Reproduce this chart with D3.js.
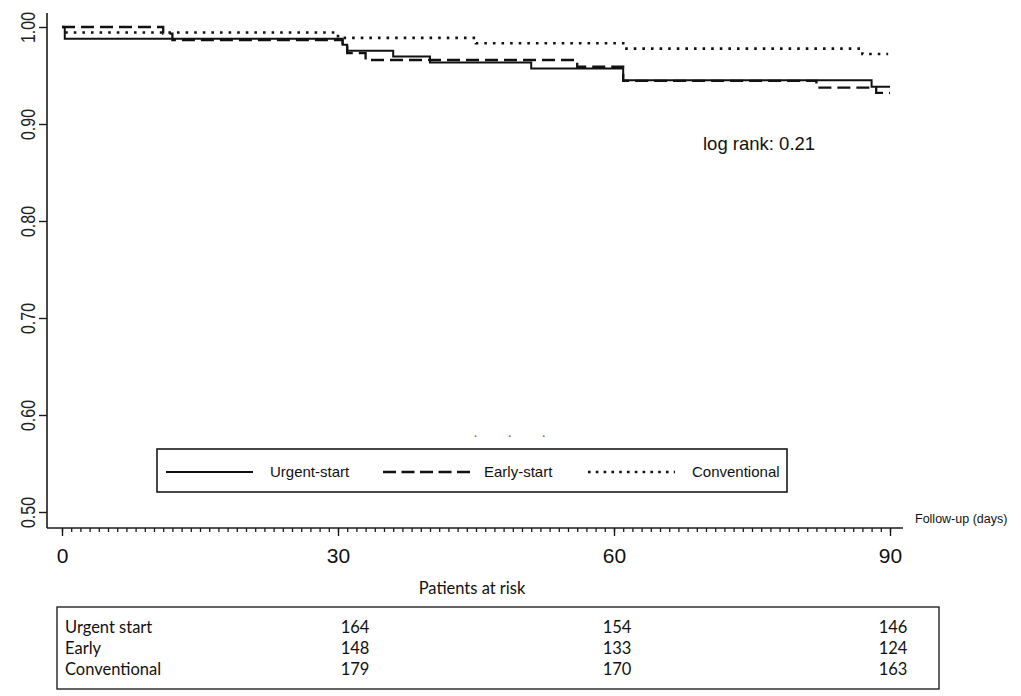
<!DOCTYPE html>
<html>
<head>
<meta charset="utf-8">
<script src="https://cdn.jsdelivr.net/npm/d3@7"></script>
<style>
  body { margin: 0; background: #fff; }
  svg { display: block; }
</style>
</head>
<body>
<div id="chart"></div>
<script>
// survival steps: [day, proportion event-free]
const urgentStart = [[0, 1], [0.3, 0.9878], [30.5, 0.9817], [31, 0.9756], [36, 0.9695], [40, 0.9634], [51, 0.9573], [61, 0.9451], [88, 0.9385], [90, 0.9385]];
const earlyStart = [[0, 1], [11, 0.9932], [12, 0.9865], [30.5, 0.9797], [31, 0.973], [33, 0.966], [56, 0.959], [61, 0.9445], [82, 0.9375], [88.5, 0.932], [90, 0.932]];
const conventional = [[0, 1], [0.3, 0.9944], [30, 0.9888], [45, 0.9832], [61, 0.9777], [87, 0.9721], [89.8, 0.9721]];

const groupNames = ["Urgent-start", "Early-start", "Conventional"];
const dayTicks = [0, 30, 60, 90];
const yTicks = [0.5, 0.6, 0.7, 0.8, 0.9, 1.0];

const riskLabels = ["Urgent start", "Early", "Conventional"];
const riskUrgent = [164, 154, 146];
const riskEarly = [148, 133, 124];
const riskConventional = [179, 170, 163];

const width = 1021;
const height = 696;

const svg = d3.select("#chart")
  .append("svg")
  .attr("width", width)
  .attr("height", height);

svg.append("rect").attr("width", width).attr("height", height).attr("fill", "#fff");

const x = d3.scaleLinear().domain([0, 90]).range([62, 890]);
const y = d3.scaleLinear().domain([0.5, 1]).range([512, 27]);

const axisLeft = 47, axisBottom = 528, axisTop = 13, axisRight = 903;
const ink = "#1a1a1a";

// axis lines
svg.append("line")
  .attr("x1", axisLeft).attr("x2", axisLeft)
  .attr("y1", axisTop).attr("y2", axisBottom)
  .attr("stroke", ink).attr("stroke-width", 1.6);
svg.append("line")
  .attr("x1", axisLeft).attr("x2", axisRight)
  .attr("y1", axisBottom).attr("y2", axisBottom)
  .attr("stroke", ink).attr("stroke-width", 1.6);

// y axis
const yAxis = svg.append("g")
  .attr("transform", `translate(${axisLeft},0)`)
  .call(d3.axisLeft(y).tickValues(yTicks).tickSize(8).tickFormat(d3.format(".2f")));
yAxis.select(".domain").remove();
yAxis.selectAll("line").attr("stroke", ink).attr("stroke-width", 1.4);
yAxis.selectAll("text")
  .attr("x", null).attr("dy", null).attr("y", null)
  .attr("text-anchor", "middle")
  .attr("transform", "translate(-12,0) rotate(-90) scale(0.76,1)")
  .attr("fill", "#222")
  .style("font-family", "'Liberation Sans', Arial, sans-serif")
  .style("font-size", "21px");

// x axis: minor daily ticks
const xMinor = svg.append("g")
  .attr("transform", `translate(0,${axisBottom})`)
  .call(d3.axisBottom(x).tickValues(d3.range(0, 91)).tickSize(4).tickFormat(""));
xMinor.select(".domain").remove();
xMinor.selectAll("line").attr("stroke", ink).attr("stroke-width", 1.3);

// x axis: major ticks
const xMajor = svg.append("g")
  .attr("transform", `translate(0,${axisBottom})`)
  .call(d3.axisBottom(x).tickValues(dayTicks).tickSize(8).tickPadding(12));
xMajor.select(".domain").remove();
xMajor.selectAll("line").attr("stroke", ink).attr("stroke-width", 1.4);
xMajor.selectAll("text")
  .attr("fill", "#111")
  .style("font-family", "'Liberation Sans', Arial, sans-serif")
  .style("font-size", "21px");

svg.append("text")
  .attr("x", 915).attr("y", 523)
  .attr("fill", "#111")
  .style("font-family", "'Liberation Sans', Arial, sans-serif")
  .style("font-size", "12.5px")
  .text("Follow-up (days)");

// curves
const styles = [
  { data: urgentStart, dash: null, w: 2 },
  { data: earlyStart, dash: "13,6", w: 2.3 },
  { data: conventional, dash: "2.6,6", w: 2.6 },
];

const line = d3.line()
  .x((d) => x(d[0]))
  .y((d) => y(d[1]))
  .curve(d3.curveStepAfter);

svg.append("g")
  .selectAll("path")
  .data(styles)
  .join("path")
  .attr("d", (d) => line(d.data))
  .attr("fill", "none")
  .attr("stroke", "#111")
  .attr("stroke-width", (d) => d.w)
  .attr("stroke-dasharray", (d) => d.dash);

svg.append("text")
  .attr("x", 703).attr("y", 150)
  .attr("fill", "#111")
  .style("font-family", "'Liberation Sans', Arial, sans-serif")
  .style("font-size", "18.5px")
  .text("log rank: 0.21");

// legend
const legend = svg.append("g");
legend.append("rect")
  .attr("x", 157).attr("y", 449)
  .attr("width", 630).attr("height", 43)
  .attr("fill", "#fff")
  .attr("stroke", ink).attr("stroke-width", 1.6);

const legendItems = [
  { lx: 166, tx: 270 },
  { lx: 383, tx: 484 },
  { lx: 588, tx: 692 },
];
legend.selectAll("line")
  .data(styles)
  .join("line")
  .attr("x1", (d, i) => legendItems[i].lx)
  .attr("x2", (d, i) => legendItems[i].lx + 87)
  .attr("y1", 472).attr("y2", 472)
  .attr("stroke", "#111")
  .attr("stroke-width", (d) => d.w)
  .attr("stroke-dasharray", (d) => (d.dash ? (d.w > 2.4 ? "2.6,5.2" : "13,5.5") : null));

legend.selectAll("text")
  .data(groupNames)
  .join("text")
  .attr("x", (d, i) => legendItems[i].tx)
  .attr("y", 472)
  .attr("dy", "0.35em")
  .attr("fill", "#111")
  .style("font-family", "'Liberation Sans', Arial, sans-serif")
  .style("font-size", "15px")
  .text((d) => d);

// faint dots left above the legend box
svg.append("text")
  .attr("x", 473).attr("y", 440)
  .attr("fill", "#666")
  .style("white-space", "pre")
  .style("font-family", "'Liberation Sans', Arial, sans-serif")
  .style("font-size", "15px")
  .text("·       ·       ·");

// patients at risk
const tableFont = "Lato, 'Open Sans', sans-serif";
svg.append("text")
  .attr("x", 472).attr("y", 594)
  .attr("text-anchor", "middle")
  .attr("fill", "#111")
  .style("font-family", tableFont)
  .style("font-size", "16.5px")
  .text("Patients at risk");

svg.append("rect")
  .attr("x", 57).attr("y", 607)
  .attr("width", 882).attr("height", 82)
  .attr("fill", "none")
  .attr("stroke", "#222").attr("stroke-width", 1.4);

const rowY = [633, 654, 675];
const colX = [355, 617, 893];
const riskValues = [riskUrgent, riskEarly, riskConventional];

const rows = svg.append("g")
  .style("font-family", tableFont)
  .style("font-size", "16.5px")
  .attr("fill", "#111")
  .selectAll("g")
  .data(riskLabels)
  .join("g");

rows.append("text")
  .attr("x", 65)
  .attr("y", (d, i) => rowY[i])
  .text((d) => d);

rows.selectAll(".num")
  .data((d, i) => riskValues[i].map((v) => ({ v, row: i })))
  .join("text")
  .attr("class", "num")
  .attr("x", (d, j) => colX[j])
  .attr("y", (d) => rowY[d.row])
  .attr("text-anchor", "middle")
  .text((d) => d.v);
</script>
</body>
</html>
